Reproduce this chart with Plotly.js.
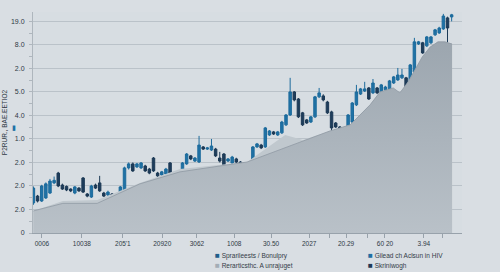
<!DOCTYPE html>
<html>
<head>
<meta charset="utf-8">
<script src="https://cdn.plot.ly/plotly-3.0.1.min.js"></script>
<style>html,body{margin:0;padding:0;background:#d9dee3;}#chart{width:500px;height:272px;}</style>
</head>
<body>
<div id="chart"></div>
<script>
// Candles (index positions along the x axis)
const openVals  = [1.28,1.57,1.36,1.49,1.70,2.13,2.55,2.04,1.98,1.87,1.70,1.91,2.34,1.66,1.53,2.04,2.13,1.70,1.62,1.66,1.57,1.53,1.79,2.77,2.94,2.81,2.77,2.85,2.72,3.19,2.55,2.47,2.51,2.98,2.55,2.43,2.55,2.94,3.28,3.06,3.02,3.66,3.57,3.53,3.57,3.19,3.36,3.06,2.98,3.15,3.02,2.64,2.51,3.02,3.66,3.74,3.66,4.17,4.30,4.17,4.26,4.60,5.02,6.00,5.70,5.11,4.81,4.72,4.94,5.79,5.83,5.57,5.15,4.68,4.51,4.17,4.26,4.72,5.45,5.91,6.04,6.17,5.96,6.17,6.00,6.09,6.09,6.38,6.51,6.60,6.60,6.43,6.85,8.04,8.09,7.96,8.09,8.43,8.51,8.68,9.15,9.19];
const highVals  = [1.98,1.62,2.05,2.15,2.30,2.40,2.60,2.10,2.02,1.90,2.00,1.95,2.38,1.70,2.05,2.10,2.43,1.75,1.80,1.70,1.60,2.00,2.82,3.00,3.00,2.98,3.02,2.90,2.77,3.23,2.60,2.64,2.77,3.02,2.60,2.64,3.02,3.40,3.32,3.23,4.13,3.70,3.66,4.00,3.62,3.45,3.40,3.19,3.28,3.20,3.06,2.68,2.90,3.70,3.83,3.79,4.51,4.38,4.34,4.34,4.77,5.06,6.60,6.04,5.74,5.15,4.85,4.98,5.83,6.17,5.90,5.62,5.20,4.72,4.55,4.21,5.06,5.57,6.30,6.17,6.43,6.21,6.55,6.21,6.34,6.26,6.51,6.68,7.02,6.98,6.64,7.19,8.30,8.17,8.13,8.38,8.38,8.68,8.77,9.32,9.20,9.32];
const lowVals   = [1.20,1.30,1.32,1.45,1.66,2.08,1.95,1.83,1.78,1.74,1.65,1.75,1.70,1.52,1.49,1.87,1.75,1.53,1.57,1.40,1.00,1.49,1.74,2.70,2.60,2.77,2.72,2.60,2.50,2.60,2.38,2.43,2.47,2.50,2.38,2.38,2.50,2.90,3.10,3.02,2.98,3.53,3.53,3.49,3.23,3.00,2.68,3.02,2.94,2.98,2.55,2.38,2.47,2.98,3.62,3.57,3.62,4.13,4.17,4.13,4.21,4.55,4.98,5.60,4.89,4.55,4.64,4.68,4.89,5.74,5.60,5.06,3.74,4.47,3.96,3.40,4.21,4.68,5.40,5.87,6.00,5.66,5.91,5.91,5.96,6.04,6.04,6.34,6.47,6.55,5.87,6.38,6.81,8.00,7.62,7.91,8.04,8.38,8.47,8.64,8.09,9.00];
const closeVals = [1.91,1.36,2.00,2.09,2.21,2.24,2.00,1.87,1.83,1.79,1.96,1.79,1.74,1.57,2.00,1.91,1.79,1.57,1.74,1.45,1.36,1.96,2.77,2.94,2.64,2.94,2.98,2.64,2.55,2.64,2.43,2.60,2.72,2.55,2.43,2.60,2.98,3.36,3.15,3.19,3.74,3.57,3.62,3.70,3.28,3.06,2.72,3.15,3.23,3.02,2.60,2.43,2.85,3.66,3.79,3.62,4.47,4.34,4.21,4.30,4.72,5.02,6.00,5.66,4.94,4.60,4.68,4.94,5.79,5.96,5.66,5.11,4.47,4.51,4.26,4.09,5.02,5.53,6.00,6.13,6.13,5.70,6.38,5.96,6.30,6.21,6.47,6.64,6.72,6.72,6.09,7.15,8.13,8.13,7.66,8.34,8.34,8.64,8.72,9.23,8.72,9.28];
const candleIdx = openVals.map((_, i) => i);

// Background (lighter) area
const areaBackX = [0,7.1,15.4,25.7,35.4,51.6,60.8,65.1,71.6,76.5,81.3,83.7,86.9,88.5,90.5,92.2,93.9,95.8,97.7,99.4,101.1];
const areaBackY = [0.94,1.36,1.40,2.13,2.72,3.02,4.17,3.96,4.34,4.60,5.45,6.00,6.17,5.96,6.43,6.94,7.49,7.91,8.13,8.13,8.04];
// Front (darker) area
const areaFrontX = [0,7.1,15.4,25.7,35.4,51.6,71.6,76.5,81.3,83.7,86.9,88.5,90.5,92.2,93.9,95.8,97.7,99.4,101.1];
const areaFrontY = [0.94,1.26,1.26,2.09,2.60,3.02,4.34,4.60,5.45,6.00,6.17,5.96,6.43,6.94,7.49,7.91,8.13,8.13,8.04];

// Axis ticks
const yTickVals = [0,1,2,3,4,5,6,7,8,9];
const yTickText = ["0","2.0","2.0","2.0","1.0","4.0","5.0","2.0","8.0","19.0"];
const xTickVals = [2.07,11.7,21.6,31.1,39.5,48.5,57.4,66.6,71.4,75.5,80.6,84.9,94.3,98.9];
const xTickText = ["0006","10038","205'1","20920","3062","1008","30.50","2027","","20.29","","60 20","3.94",""];

const yTitle = "P2RUR., BAE.EETIO2";
const legendLabels = ["Sprarileests / Bonulpry","Rerarticsthc. A unrajuget","Gilead ch Aclsun in HIV","Skriniwogh"];
const legendColors = ["#1f5f8b","#a3adb6","#1f70a3","#1e3a57"];

const font = "Liberation Sans, Arial, sans-serif";

const traces = [
  {type:'scatter', x:areaBackX, y:areaBackY, mode:'lines', fill:'tozeroy',
   fillcolor:'#c0c8ce', line:{width:0, color:'#c0c8ce'}, hoverinfo:'skip', showlegend:false},
  {type:'scatter', x:areaFrontX, y:areaFrontY, mode:'lines', fill:'tozeroy',
   fillgradient:{type:'vertical', colorscale:[[0,'#b9c1c8'],[1,'#9ca6af']]},
   line:{width:0.8, color:'#8f99a3'}, hoverinfo:'skip', showlegend:false},
  {type:'candlestick', x:candleIdx, open:openVals, high:highVals, low:lowVals, close:closeVals,
   increasing:{line:{color:'#1d6b9c', width:1}, fillcolor:'#1f72a6'},
   decreasing:{line:{color:'#1c3955', width:1}, fillcolor:'#1e3d5c'},
   whiskerwidth:0, showlegend:false, hoverinfo:'skip'}
];

const px2x = p => (p - 33) / 429;
const py2y = p => (233 - p) / 221;
const annotations = [];
const legPos = [[213,255],[213,265],[366,255],[366,265]];
legendLabels.forEach((lab, k) => {
  annotations.push({xref:'paper', yref:'paper', x:px2x(legPos[k][0]), y:py2y(legPos[k][1]),
    xanchor:'left', yanchor:'middle', showarrow:false,
    text:'<span style="color:' + legendColors[k] + ';font-size:8px">■</span> ' + lab,
    font:{family:font, size:6.5, color:'#333c46'}});
});
annotations.push({xref:'paper', yref:'paper', x:px2x(14), y:py2y(128), xanchor:'center', yanchor:'middle',
  showarrow:false, text:'▮', font:{family:'DejaVu Sans', size:7, color:'#1f72a6'}});

const layout = {
  width:500, height:272,
  margin:{l:33, r:38, t:12, b:39},
  paper_bgcolor:'#d9dee3', plot_bgcolor:'#d7dde2',
  font:{family:font, size:7, color:'#2f3a45'},
  showlegend:false,
  boxgap:0.15,
  xaxis:{range:[-0.1,103.5], rangeslider:{visible:false}, showgrid:false, zeroline:false,
    showline:true, linecolor:'#98a2ab', linewidth:1,
    tickmode:'array', tickvals:xTickVals, ticktext:xTickText,
    ticks:'outside', ticklen:4, tickcolor:'#98a2ab', tickfont:{size:6.5, color:'#2f3a45'}},
  yaxis:{range:[0,9.4], tickmode:'array', tickvals:yTickVals, ticktext:yTickText,
    showgrid:true, gridcolor:'#bac2c9', gridwidth:1, zeroline:false,
    showline:true, linecolor:'#aeb6bd', linewidth:1,
    ticks:'outside', ticklen:3, tickcolor:'#aeb6bd', tickfont:{size:7, color:'#2f3a45'},
    ticklabelstandoff:3,
    minor:{tickmode:'linear', tick0:0.5, dtick:1, ticks:'outside', ticklen:3, tickcolor:'#aeb6bd', showgrid:false},
    title:{text:yTitle, standoff:2, font:{size:6.5, color:'#2f3a45'}}},
  annotations:annotations
};

Plotly.newPlot('chart', traces, layout, {displayModeBar:false, staticPlot:true});
</script>
</body>
</html>
